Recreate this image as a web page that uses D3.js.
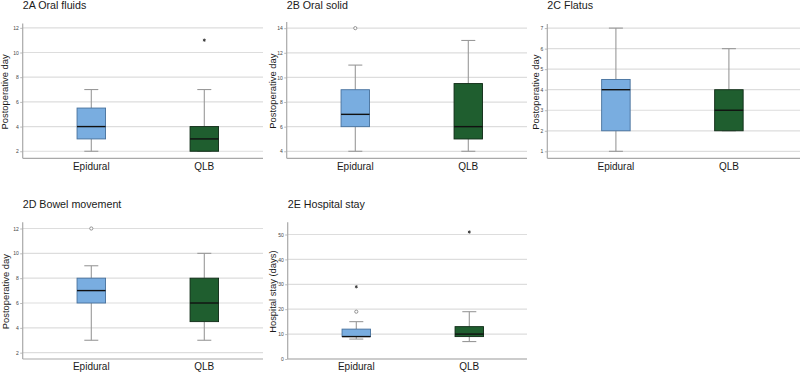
<!DOCTYPE html>
<html>
<head>
<meta charset="utf-8">
<script src="https://cdn.jsdelivr.net/npm/d3@7/dist/d3.min.js"></script>
<style>
  html, body { margin: 0; padding: 0; background: #fff; }
  svg { display: block; font-family: "Liberation Sans", Arial, sans-serif; }
</style>
</head>
<body>
<svg id="chart" width="800" height="374"></svg>
<script>
// ---------------- DATA ----------------
const panelTitles = ["2A Oral fluids", "2B Oral solid", "2C Flatus", "2D Bowel movement", "2E Hospital stay"];
const yAxisTitles = ["Postoperative day", "Postoperative day", "Postoperative day", "Postoperative day", "Hospital stay (days)"];
const groups = ["Epidural", "QLB"];
const yTicks = [
  [2, 4, 6, 8, 10, 12],
  [4, 6, 8, 10, 12, 14],
  [1, 2, 3, 4, 5, 6, 7],
  [2, 4, 6, 8, 10, 12],
  [0, 10, 20, 30, 40, 50]
];
// axis extents (value units) for each panel
const yExtents = [[1.43, 12.35], [3.43, 14.5], [0.66, 7.2], [1.49, 12.5], [0, 54.9]];
// [lower whisker, Q1, median, Q3, upper whisker]
const epiduralStats = [
  [2, 3, 4, 5.5, 7],
  [4, 6, 7, 9, 11],
  [1, 2, 4, 4.5, 7],
  [3, 6, 7, 8, 9],
  [8, 9, 9, 12, 15]
];
const qlbStats = [
  [2, 2, 3, 4, 7],
  [4, 5, 6, 9.5, 13],
  [2, 2, 3, 4, 6],
  [3, 4.5, 6, 8, 10],
  [7, 9, 10, 13, 19]
];
// outliers: "o" = circle (outlier), "*" = extreme
const epiduralOutliers = [[], [[14, "o"]], [], [[12, "o"]], [[19, "o"], [29, "*"]]];
const qlbOutliers = [[[11, "*"]], [], [], [], [[51, "*"]]];

// ---------------- LAYOUT ----------------
const panels = [
  { left: 22.7, right: 263, top: 23.5, bottom: 158.3, titleY: 8.5, yTitleX: 4.6 },
  { left: 286.7, right: 527, top: 22, bottom: 158.3, titleY: 8.5, yTitleX: 272.7 },
  { left: 547.3, right: 800, top: 24, bottom: 158.3, titleY: 8.5, yTitleX: 535.5 },
  { left: 22.7, right: 263, top: 222.3, bottom: 359, titleY: 207.5, yTitleX: 5.3 },
  { left: 287.7, right: 527, top: 222.3, bottom: 359, titleY: 207.5, yTitleX: 272.2 }
];
const fills = ["#79ade0", "#1f5e2f"];
const strokes = ["#46709c", "#0e2a15"];
const boxW = 28.5, capW = 14;

const svg = d3.select("#chart");

panels.forEach((p, i) => {
  const g = svg.append("g");
  const y = d3.scaleLinear().domain(yExtents[i]).range([p.bottom, p.top]);
  const x = d3.scalePoint().domain(groups).range([p.left + 68.6, p.left + 181.6]);

  // gridlines
  g.append("g").selectAll("line").data(yTicks[i]).join("line")
    .attr("x1", p.left).attr("x2", p.right)
    .attr("y1", d => y(d)).attr("y2", d => y(d))
    .attr("stroke", "#dddddd").attr("stroke-width", 1.2);

  // y axis
  const ax = g.append("g").attr("transform", `translate(${p.left},0)`)
    .call(d3.axisLeft(y).tickValues(yTicks[i]).tickSize(2.5).tickPadding(1.5).tickFormat(d3.format("d")));
  ax.select(".domain").remove();
  ax.selectAll(".tick line").attr("stroke", "#bbbbbb");
  ax.selectAll(".tick text").attr("font-size", 5).attr("fill", "#444")
    .attr("font-family", "'Liberation Sans', Arial, sans-serif");

  // axis lines
  g.append("line").attr("x1", p.left).attr("x2", p.left).attr("y1", p.top).attr("y2", p.bottom)
    .attr("stroke", "#a9a9a9").attr("stroke-width", 1.2);
  g.append("line").attr("x1", p.left).attr("x2", p.right).attr("y1", p.bottom).attr("y2", p.bottom)
    .attr("stroke", "#a9a9a9").attr("stroke-width", 1.2);

  // x labels
  g.selectAll(".xl").data(groups).join("text").attr("class", "xl")
    .attr("x", d => x(d)).attr("y", p.bottom + 11.2)
    .attr("text-anchor", "middle").attr("font-size", 10).attr("fill", "#1a1a1a")
    .text(d => d);

  // title
  g.append("text").attr("x", p.left).attr("y", p.titleY)
    .attr("font-size", 10.7).attr("fill", "#1a1a1a").text(panelTitles[i]);

  // y axis title
  const midY = (p.top + p.bottom) / 2 + 1;
  g.append("text")
    .attr("transform", `translate(${p.yTitleX},${midY}) rotate(-90)`)
    .attr("text-anchor", "middle").attr("dominant-baseline", "central")
    .attr("font-size", 9.4).attr("fill", "#1a1a1a").text(yAxisTitles[i]);

  // boxes
  const statsList = [epiduralStats[i], qlbStats[i]];
  const outList = [epiduralOutliers[i], qlbOutliers[i]];
  groups.forEach((grp, k) => {
    const s = statsList[k];
    const cx = x(grp);
    const wg = g.append("g");
    // whiskers
    wg.append("line").attr("x1", cx).attr("x2", cx).attr("y1", y(s[0])).attr("y2", y(s[1]))
      .attr("stroke", "#999").attr("stroke-width", 1.1);
    wg.append("line").attr("x1", cx).attr("x2", cx).attr("y1", y(s[3])).attr("y2", y(s[4]))
      .attr("stroke", "#999").attr("stroke-width", 1.1);
    [s[0], s[4]].forEach(v => {
      wg.append("line").attr("x1", cx - capW / 2).attr("x2", cx + capW / 2)
        .attr("y1", y(v)).attr("y2", y(v)).attr("stroke", "#999").attr("stroke-width", 1.1);
    });
    // box
    wg.append("rect").attr("x", cx - boxW / 2).attr("width", boxW)
      .attr("y", y(s[3])).attr("height", y(s[1]) - y(s[3]))
      .attr("fill", fills[k]).attr("stroke", strokes[k]).attr("stroke-width", 0.9);
    // median
    wg.append("line").attr("x1", cx - boxW / 2).attr("x2", cx + boxW / 2)
      .attr("y1", y(s[2])).attr("y2", y(s[2])).attr("stroke", "#111").attr("stroke-width", 1.4);
    // outliers
    outList[k].forEach(o => {
      if (o[1] === "o") {
        wg.append("circle").attr("cx", cx).attr("cy", y(o[0])).attr("r", 1.6)
          .attr("fill", "#fff").attr("stroke", "#888").attr("stroke-width", 0.9);
      } else {
        wg.append("path").attr("d", d3.symbol(d3.symbolAsterisk, 7)())
          .attr("transform", `translate(${cx},${y(o[0])})`)
          .attr("fill", "none").attr("stroke", "#333").attr("stroke-width", 0.9);
      }
    });
  });
});
</script>
</body>
</html>
